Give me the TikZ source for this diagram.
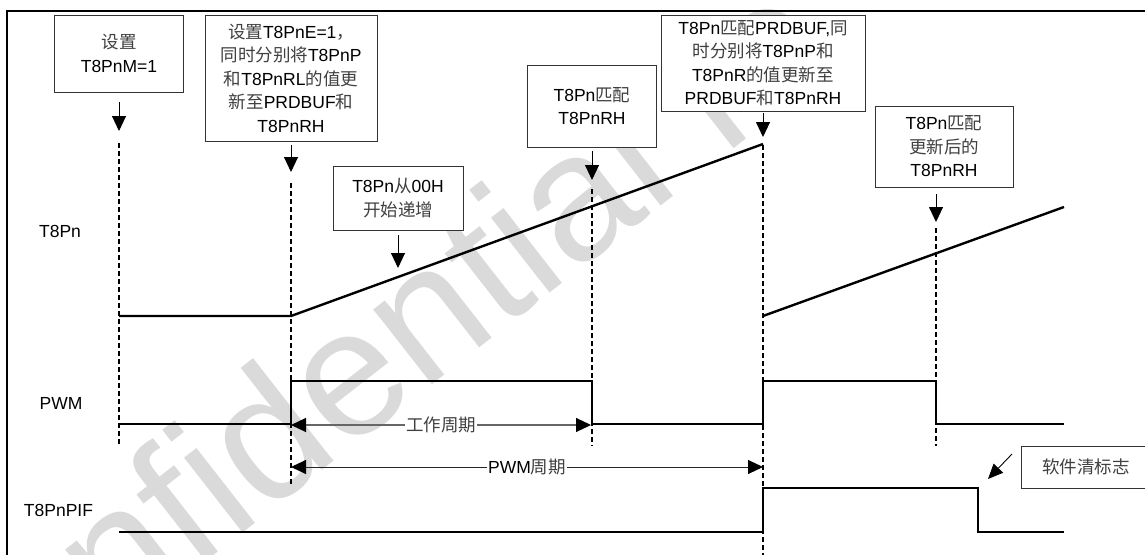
\documentclass[tikz,border=0pt]{standalone}
\usepackage{fontspec}
\setmainfont{Liberation Sans}
\newfontfamily\cjk{Noto Sans CJK SC}
\usetikzlibrary{arrows.meta,calc}
\definecolor{zhc}{HTML}{404040}
\definecolor{wmc}{HTML}{DADADA}
\definecolor{boxc}{HTML}{333333}
\definecolor{dimc}{HTML}{666666}
\newcommand\zh[1]{{\cjk\color{zhc}#1}}
\tikzset{
  box/.style={draw=boxc, line width=0.9pt, fill=white, align=center, inner sep=0pt,
    font=\fontsize{17.5}{23.5}\selectfont},
  sig/.style={line width=2.4pt, line join=miter},
  guide/.style={dash pattern=on 5pt off 3pt, line width=1.1pt},
  pointer/.style={line width=0.9pt, -{Triangle[length=15pt,width=14pt]}},
  dimline/.style={line width=1.1pt, draw=dimc,
    {Triangle[length=15pt,width=14pt,fill=black,color=black]}-{Triangle[length=15pt,width=14pt,fill=black,color=black]}},
  lab/.style={font=\fontsize{17.5}{21}\selectfont, inner sep=1pt},
  dimlab/.style={font=\fontsize{17.5}{21}\selectfont, fill=white, inner sep=1pt},
}
\begin{document}
\begin{tikzpicture}[x=1pt,y=-1pt]
\useasboundingbox (0,0) rectangle (1145,554);
\clip (0,0) rectangle (1145,554);
% watermark
\node[font=\fontsize{180}{180}\selectfont, text=wmc, anchor=base west, inner sep=0pt,
  rotate=38] (wm) at (-35,750) {confidential fo};
% frame
\draw[line width=2pt] (1160,11) -- (7,11) -- (7,570);
% boxes
\node[box, minimum width=129pt, minimum height=77pt] (b1) at (119,53.5) {\zh{设置}\\T8PnM=1};
\node[box, minimum width=172pt, minimum height=126pt] (b2) at (291,78)
  {\zh{设置}T8PnE=1\zh{，}\\\zh{同时分别将}T8PnP\\\zh{和}T8PnRL\zh{的值更}\\\zh{新至}PRDBUF\zh{和}\\T8PnRH};
\node[box, minimum width=130pt, minimum height=64pt] (b3) at (398,198) {T8Pn\zh{从}00H\\\zh{开始递增}};
\node[box, minimum width=129pt, minimum height=82pt] (b4) at (592,106) {T8Pn\zh{匹配}\\T8PnRH};
\node[box, minimum width=204pt, minimum height=96pt] (b5) at (763,63)
  {T8Pn\zh{匹配}PRDBUF,\zh{同}\\\zh{时分别将}T8PnP\zh{和}\\T8PnR\zh{的值更新至}\\PRDBUF\zh{和}T8PnRH};
\node[box, minimum width=138pt, minimum height=81pt] (b6) at (944,146.5) {T8Pn\zh{匹配}\\\zh{更新后的}\\T8PnRH};
\node[box, minimum width=130pt, minimum height=42pt, text width=129pt] (bc) at (1086,467) {\zh{软件清标志}};
% arrow tips
\coordinate (t1) at (119,131);
\coordinate (t2) at (291,172);
\coordinate (t3) at (398,268);
\coordinate (t4) at (592,180);
\coordinate (t5) at (763,137);
\coordinate (t6) at (936,222);
\draw[pointer, shorten <=10pt] (b1.south -| t1) -- (t1);
\draw[pointer, shorten <=4pt] (b2.south -| t2) -- (t2);
\draw[pointer, shorten <=5pt] (b3.south -| t3) -- (t3);
\draw[pointer, shorten <=4pt] (b4.south -| t4) -- (t4);
\draw[pointer, shorten <=2pt] (b5.south -| t5) -- (t5);
\draw[pointer, shorten <=7pt] (b6.south -| t6) -- (t6);
% dashed guides
\coordinate (g1a) at (119,143); \coordinate (g1b) at (119,446);
\coordinate (g2a) at (291,183); \coordinate (g2b) at (291,486);
\coordinate (g4a) at (592,189); \coordinate (g4b) at (592,446);
\coordinate (g5a) at (763,145); \coordinate (g5b) at (763,560);
\coordinate (g6a) at (936,228); \coordinate (g6b) at (936,446);
\draw[guide] (g1a) -- (g1b);
\draw[guide] (g2a) -- (g2b);
\draw[guide] (g4a) -- (g4b);
\draw[guide] (g5a) -- (g5b);
\draw[guide] (g6a) -- (g6b);
% signal labels
\node[lab] (l1) at (60,231) {T8Pn};
\node[lab] (l2) at (61,403) {PWM};
\node[lab] (l3) at (58.5,510) {T8PnPIF};
% T8Pn counter
\draw[sig] (119,316) -- (291,316) -- (763,144);
\draw[sig] (763,316) -- (1064,207);
% PWM
\draw[sig] (119,424) -- (291,424) -- (291,381) -- (592,381) -- (592,424) -- (763,424)
  -- (763,381) -- (936,381) -- (936,424) -- (1064,424);
% PIF
\draw[sig] (119,532) -- (763,532) -- (763,488) -- (978,488) -- (978,532) -- (1064,532);
% dimension arrows
\coordinate (w1) at (291,425); \coordinate (w2) at (591,425);
\coordinate (p1) at (291,467); \coordinate (p2) at (763,467);
\draw[dimline] (w1) -- (w2);
\draw[dimline, draw=black!85, line width=0.9pt] (p1) -- (p2);
\node[dimlab] (wl) at (441,425) {\zh{工作周期}};
\node[dimlab] (pl) at (527,467) {PWM\zh{周期}};
% clear-flag pointer
\coordinate (c1) at (1012,454); \coordinate (c2) at (988,479);
\draw[line width=0.9pt, -{Triangle[length=15pt,width=13pt]}] (c1) -- (c2);
\end{tikzpicture}
\end{document}
